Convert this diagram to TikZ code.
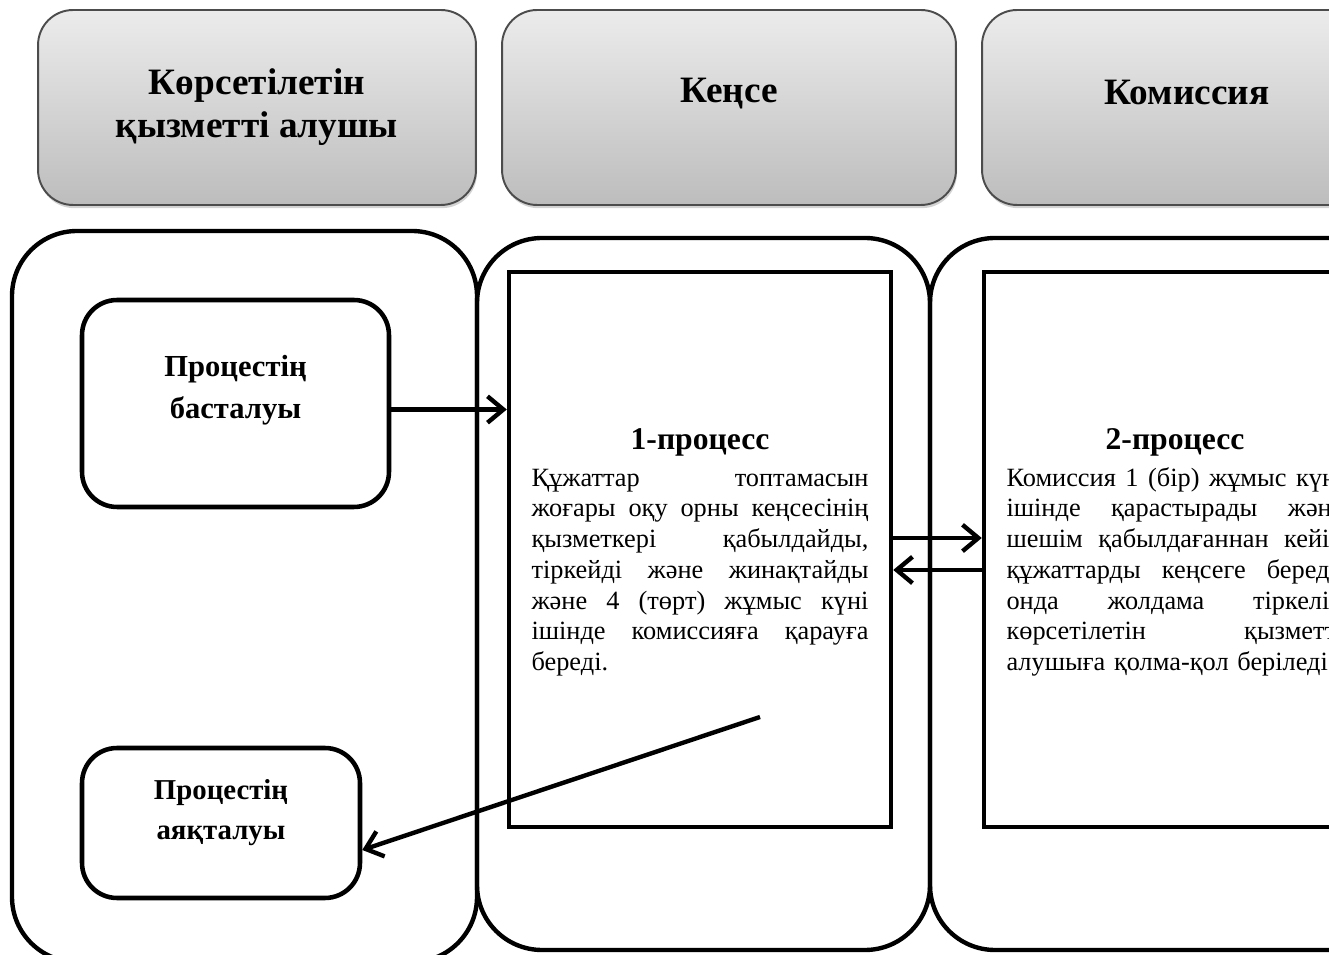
\documentclass[tikz,border=0pt]{standalone}
\usepackage{fontspec}
\setmainfont{Liberation Serif}
\usetikzlibrary{arrows.meta,shadows}

\newlength{\procwd}
\setlength{\procwd}{6.74cm}
\newcommand{\jline}[1]{{\spaceskip=0pt\xspaceskip=0pt\makebox[\procwd][s]{#1}}}
\newcommand{\jlast}[1]{\makebox[\procwd][l]{#1}}

\tikzset{
  head/.style={draw=black!70, line width=1.1pt, rounded corners=0.7cm,
    top color=gray!15, bottom color=gray!52,
    drop shadow={shadow xshift=0.6pt, shadow yshift=-1.8pt, opacity=0.35}},
  headtext/.style={align=center, font=\fontsize{21.2}{24.5}\selectfont\bfseries},
  lane/.style={draw, line width=2.5pt, rounded corners=1.3cm},
  termbox/.style={draw, line width=2.6pt, rounded corners=0.7cm},
  termtext/.style={align=center, font=\fontsize{17.4}{24}\selectfont\bfseries},
  procbox/.style={draw, line width=2.6pt, minimum width=7.64cm, minimum height=11.1cm},
  proctext/.style={inner sep=0pt, align=center, text width=\procwd,
    font=\fontsize{15}{17.5}\selectfont},
  arr/.style={line width=2.5pt, -{Straight Barb[length=9pt,width=15pt]}}
}

\begin{document}
\begin{tikzpicture}[x=0.02cm, y=-0.02cm]
  \useasboundingbox (0,0) rectangle (1329,955);
  \clip (0,0) rectangle (1329,955);

  % header row
  \node[head, minimum width=8.76cm, minimum height=3.9cm,
    label={[headtext]center:Көрсетілетін\\қызметті алушы}] (h1) at (257,107.5) {};
  \node[head, minimum width=9.08cm, minimum height=3.9cm,
    label={[headtext,yshift=0.28cm]center:Кеңсе}] (h2) at (729,107.5) {};
  \node[head, minimum width=8.2cm, minimum height=3.9cm,
    label={[headtext,yshift=0.3cm]center:Комиссия}] (h3) at (1187,107.5) {};

  % swim lanes
  \draw[lane] (12,231) rectangle (477,962);
  \draw[lane] (477,238) rectangle (930,950);
  \draw[lane] (930,238) rectangle (1402,950);

  % start and end
  \node[termbox, minimum width=6.14cm, minimum height=4.14cm,
    label={[termtext,yshift=0.27cm]center:Процестің\\басталуы}] (start) at (235.5,403.5) {};
  \node[termbox, minimum width=5.56cm, minimum height=3cm,
    label={[termtext,yshift=0.2cm,font=\fontsize{16.4}{22.8}\selectfont\bfseries]center:Процестің\\аяқталуы}] (end) at (221,823) {};

  % processes
  \node[procbox] (p1) at (700,549.5) {};
  \node[proctext] (p1txt) at ([yshift=-0.06cm]p1.center) {{\fontsize{18}{22}\selectfont\bfseries 1-процесс}\\[3.3pt]
    \jline{Құжаттар топтамасын}\\
    \jline{жоғары оқу орны кеңсесінің}\\
    \jline{қызметкері қабылдайды,}\\
    \jline{тіркейді және жинақтайды}\\
    \jline{және 4 (төрт) жұмыс күні}\\
    \jline{ішінде комиссияға қарауға}\\
    \jlast{береді.}};
  \node[procbox] (p2) at (1175,549.5) {};
  \node[proctext] (p2txt) at ([yshift=-0.06cm]p2.center) {{\fontsize{18}{22}\selectfont\bfseries 2-процесс}\\[3.3pt]
    \jline{Комиссия 1 (бір) жұмыс күні}\\
    \jline{ішінде қарастырады және}\\
    \jline{шешім қабылдағаннан кейін}\\
    \jline{құжаттарды кеңсеге береді,}\\
    \jline{онда жолдама тіркеліп}\\
    \jline{көрсетілетін қызметті}\\
    \jlast{алушыға қолма-қол беріледі.}};

  % connectors
  \coordinate (back) at (760,717);
  \draw[arr] ([yshift=-0.12cm]start.east) -- ([yshift=-0.12cm]start.east -| p1.west);
  \draw[arr] ([yshift=0.23cm]p1.east) -- ([yshift=0.23cm]p2.west);
  \draw[arr] ([yshift=-0.41cm]p2.west) -- ([yshift=-0.41cm]p1.east);
  \draw[arr] (back) -- ([yshift=-0.54cm]end.east);
\end{tikzpicture}
\end{document}
